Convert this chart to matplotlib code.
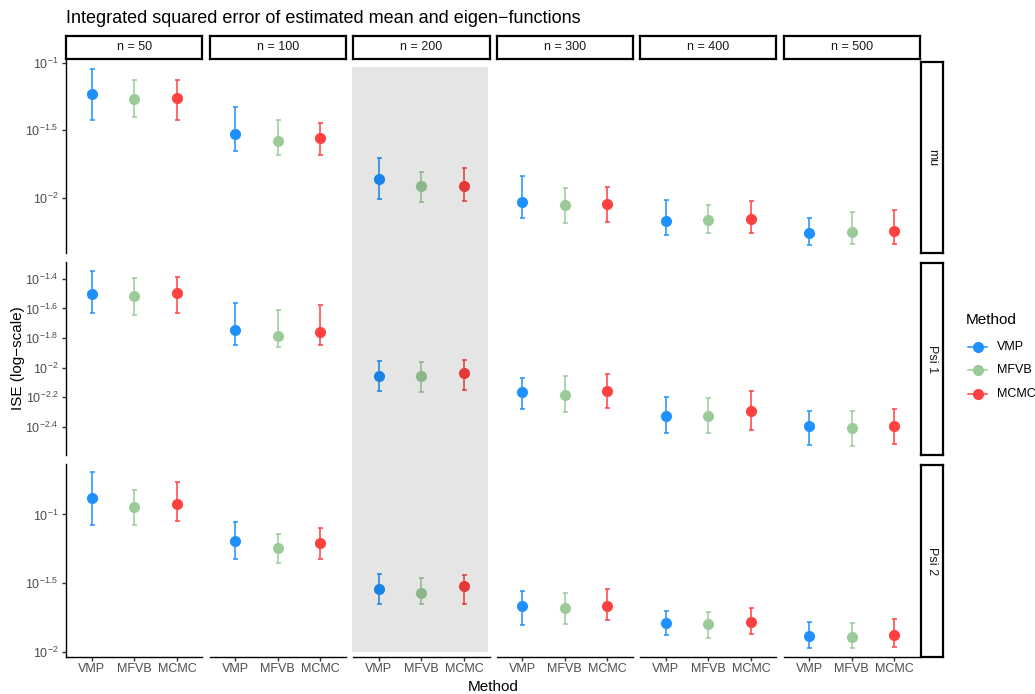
import numpy as np
import matplotlib
matplotlib.use('Agg')
import matplotlib.pyplot as plt
from matplotlib.patches import Rectangle
from matplotlib.lines import Line2D
from matplotlib.ticker import FixedLocator, FixedFormatter, NullLocator

plt.rcParams['font.family'] = ['Liberation Sans', 'DejaVu Sans']
plt.rcParams['mathtext.fontset'] = 'custom'
plt.rcParams['mathtext.rm'] = 'Liberation Sans'
plt.rcParams['mathtext.it'] = 'Liberation Sans:italic'
plt.rcParams['mathtext.bf'] = 'Liberation Sans:bold'
plt.rcParams['mathtext.sf'] = 'Liberation Sans'

# ---------------- data (log10 of ISE) ----------------
sample_sizes = [50, 100, 200, 300, 400, 500]
methods = ['VMP', 'MFVB', 'MCMC']
quantities = ['mu', 'Psi 1', 'Psi 2']
highlight_n = 200

# mu
mu_vmp_est = [-1.232, -1.524, -1.859, -2.035, -2.173, -2.264]
mu_vmp_lo = [-1.422, -1.652, -2.007, -2.153, -2.281, -2.350]
mu_vmp_hi = [-1.042, -1.324, -1.706, -1.842, -2.020, -2.153]
mu_mfvb_est = [-1.269, -1.578, -1.911, -2.059, -2.165, -2.254]
mu_mfvb_lo = [-1.402, -1.681, -2.032, -2.187, -2.264, -2.348]
mu_mfvb_hi = [-1.124, -1.422, -1.813, -1.931, -2.054, -2.111]
mu_mcmc_est = [-1.261, -1.558, -1.916, -2.047, -2.156, -2.250]
mu_mcmc_lo = [-1.420, -1.681, -2.022, -2.183, -2.264, -2.343]
mu_mcmc_hi = [-1.124, -1.444, -1.783, -1.924, -2.024, -2.096]

# Psi 1
psi1_vmp_est = [-1.503, -1.749, -2.060, -2.167, -2.326, -2.397]
psi1_vmp_lo = [-1.630, -1.845, -2.158, -2.281, -2.442, -2.523]
psi1_vmp_hi = [-1.344, -1.561, -1.959, -2.071, -2.199, -2.293]
psi1_mfvb_est = [-1.516, -1.787, -2.060, -2.183, -2.328, -2.409]
psi1_mfvb_lo = [-1.644, -1.863, -2.165, -2.301, -2.442, -2.534]
psi1_mfvb_hi = [-1.397, -1.612, -1.961, -2.058, -2.209, -2.293]
psi1_mcmc_est = [-1.496, -1.758, -2.035, -2.160, -2.293, -2.397]
psi1_mcmc_lo = [-1.630, -1.847, -2.152, -2.272, -2.420, -2.516]
psi1_mcmc_hi = [-1.387, -1.577, -1.946, -2.044, -2.160, -2.279]

# Psi 2
psi2_vmp_est = [-0.877, -1.194, -1.542, -1.666, -1.789, -1.888]
psi2_vmp_lo = [-1.073, -1.322, -1.651, -1.808, -1.881, -1.975]
psi2_vmp_hi = [-0.693, -1.053, -1.434, -1.557, -1.702, -1.782]
psi2_mfvb_est = [-0.949, -1.245, -1.569, -1.683, -1.801, -1.893]
psi2_mfvb_lo = [-1.078, -1.356, -1.656, -1.797, -1.901, -1.971]
psi2_mfvb_hi = [-0.818, -1.143, -1.465, -1.572, -1.714, -1.789]
psi2_mcmc_est = [-0.922, -1.211, -1.525, -1.666, -1.784, -1.877]
psi2_mcmc_lo = [-1.049, -1.322, -1.649, -1.770, -1.874, -1.966]
psi2_mcmc_hi = [-0.760, -1.102, -1.443, -1.542, -1.680, -1.760]

# y-axis tick exponents per row
mu_tick_exps = [-1, -1.5, -2]
psi1_tick_exps = [-1.4, -1.6, -1.8, -2, -2.2, -2.4]
psi2_tick_exps = [-1, -1.5, -2]

data = {
    'mu': {'VMP': (mu_vmp_est, mu_vmp_lo, mu_vmp_hi),
           'MFVB': (mu_mfvb_est, mu_mfvb_lo, mu_mfvb_hi),
           'MCMC': (mu_mcmc_est, mu_mcmc_lo, mu_mcmc_hi)},
    'Psi 1': {'VMP': (psi1_vmp_est, psi1_vmp_lo, psi1_vmp_hi),
              'MFVB': (psi1_mfvb_est, psi1_mfvb_lo, psi1_mfvb_hi),
              'MCMC': (psi1_mcmc_est, psi1_mcmc_lo, psi1_mcmc_hi)},
    'Psi 2': {'VMP': (psi2_vmp_est, psi2_vmp_lo, psi2_vmp_hi),
              'MFVB': (psi2_mfvb_est, psi2_mfvb_lo, psi2_mfvb_hi),
              'MCMC': (psi2_mcmc_est, psi2_mcmc_lo, psi2_mcmc_hi)},
}
tick_exps = {'mu': mu_tick_exps, 'Psi 1': psi1_tick_exps, 'Psi 2': psi2_tick_exps}

colors = {'VMP': '#1E90FF', 'MFVB': '#9BCB98', 'MCMC': '#FF4040'}

# ---------------- layout (pixels) ----------------
W, H = 1035, 694
fig = plt.figure(figsize=(W / 100, H / 100), dpi=100)
fig.patch.set_facecolor('white')


def frect(x, y_top, w, h):
    return [x / W, 1 - (y_top + h) / H, w / W, h / H]


col_x = [66, 209.5, 353, 496.5, 640, 783.5]
col_w = 136.5
row_y = [60, 261.8, 463.6]
row_h = 193.4

tick_color = '#333333'
label_color = '#4D4D4D'

for r, q in enumerate(quantities):
    # row limits from data (5% expansion in log space)
    lows = [v for m in methods for v in data[q][m][1]]
    highs = [v for m in methods for v in data[q][m][2]]
    lo, hi = min(lows), max(highs)
    pad = 0.05 * (hi - lo)
    for c, n in enumerate(sample_sizes):
        ax = fig.add_axes(frect(col_x[c], row_y[r], col_w, row_h))
        ax.set_facecolor('none')
        ax.set_yscale('log')
        ax.set_xlim(0.4, 3.6)
        ax.set_ylim(10 ** (lo - pad), 10 ** (hi + pad))
        for k, m in enumerate(methods):
            est = 10 ** np.array(data[q][m][0][c])
            l = 10 ** np.array(data[q][m][1][c])
            h = 10 ** np.array(data[q][m][2][c])
            x = k + 1
            ax.errorbar([x], [est], yerr=[[est - l], [h - est]], fmt='none',
                        ecolor=colors[m], elinewidth=1.1, capsize=1.8,
                        capthick=1.1, zorder=2)
            ax.plot([x], [est], 'o', color=colors[m], ms=8, mew=0, zorder=3)
        for s in ['top', 'right']:
            ax.spines[s].set_visible(False)
        ax.spines['left'].set_visible(c == 0)
        ax.spines['bottom'].set_visible(r == 2)
        for s in ['left', 'bottom']:
            ax.spines[s].set_linewidth(1.0)
            ax.spines[s].set_color('black')
        ax.yaxis.set_minor_locator(NullLocator())
        exps = tick_exps[q]
        ax.yaxis.set_major_locator(FixedLocator([10 ** e for e in exps]))
        ax.yaxis.set_major_formatter(FixedFormatter(
            [r'$10^{%s}$' % ('%g' % e) for e in exps]))
        ax.set_xticks([1, 2, 3])
        ax.set_xticklabels(methods)
        ax.tick_params(axis='y', which='major', length=3, width=1.0,
                       color=tick_color, labelsize=9, labelcolor=label_color,
                       pad=2.5, left=(c == 0), labelleft=(c == 0))
        ax.tick_params(axis='x', which='major', length=3, width=1.0,
                       color=tick_color, labelsize=9, labelcolor=label_color,
                       pad=1.5, bottom=(r == 2), labelbottom=(r == 2))
        ax.tick_params(axis='y', which='minor', left=False)

# top strips
for c, n in enumerate(sample_sizes):
    sax = fig.add_axes(frect(col_x[c], 36, col_w, 22.5))
    sax.set_xticks([])
    sax.set_yticks([])
    sax.set_facecolor('white')
    for s in sax.spines.values():
        s.set_linewidth(1.6)
        s.set_color('black')
    sax.text(0.5, 0.5, f'n = {n}', ha='center', va='center', fontsize=9,
             color='#1A1A1A', transform=sax.transAxes)

# right strips
for r, q in enumerate(quantities):
    sax = fig.add_axes(frect(921, row_y[r] + 1.5, 21.5, row_h - 1.5))
    sax.set_xticks([])
    sax.set_yticks([])
    sax.set_facecolor('white')
    for s in sax.spines.values():
        s.set_linewidth(1.6)
        s.set_color('black')
    sax.text(0.5, 0.5, q, ha='center', va='center', fontsize=9,
             color='#1A1A1A', rotation=-90, transform=sax.transAxes)

# highlight band for n = 200
hc = sample_sizes.index(highlight_n)
band = Rectangle(((col_x[hc] - 1) / W, 1 - 652 / H), (col_w - 0.5) / W, (652 - 67) / H,
                 transform=fig.transFigure, facecolor='black', alpha=0.1,
                 edgecolor='none', zorder=10)
fig.patches.append(band)

# titles
fig.text(66 / W, 1 - 18.5 / H, 'Integrated squared error of estimated mean and eigen\u2212functions',
         ha='left', va='center', fontsize=13, color='black')
fig.text(18 / W, 1 - 358.5 / H, 'ISE (log\u2212scale)', rotation=90, ha='center',
         va='center', fontsize=11, color='black')
fig.text(493 / W, 1 - 687 / H, 'Method', ha='center', va='center', fontsize=11,
         color='black')

# legend
fig.text(966 / W, 1 - 320 / H, 'Method', ha='left', va='center', fontsize=11,
         color='black')
for k, m in enumerate(methods):
    yk = 1 - (346.7 + k * 23.7) / H
    fig.add_artist(Line2D([968 / W, 987 / W], [yk, yk], color=colors[m], lw=1.1,
                          transform=fig.transFigure))
    fig.add_artist(Line2D([977.5 / W], [yk], marker='o', ms=8, mew=0,
                          color=colors[m], transform=fig.transFigure))
    fig.text(997 / W, yk, m, ha='left', va='center', fontsize=9, color='black')

fig.savefig('out.png', dpi=100)
